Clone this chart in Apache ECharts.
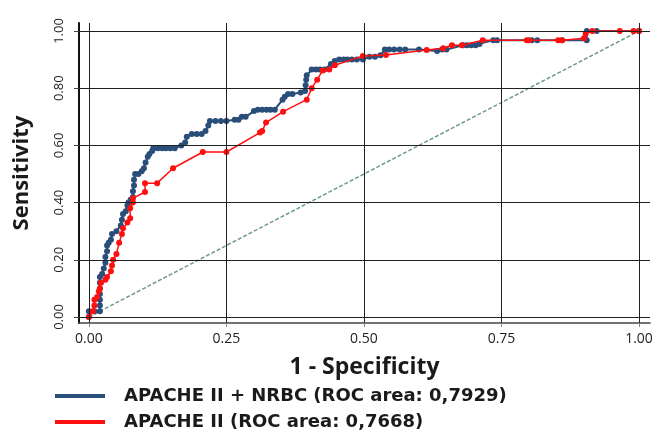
<!DOCTYPE html>
<html>
<head>
<meta charset="utf-8">
<script src="https://cdn.jsdelivr.net/npm/echarts@6/dist/echarts.min.js"></script>
<style>html,body{margin:0;padding:0;background:#fff;}#c{width:657px;height:436px;}</style>
</head>
<body>
<div id="c"></div>
<script>
var xTicks = [0, 0.25, 0.5, 0.75, 1];
var yTicks = [0, 0.2, 0.4, 0.6, 0.8, 1];
var seriesNames = ['APACHE II + NRBC (ROC area: 0,7929)', 'APACHE II (ROC area: 0,7668)'];
var diagonal = [[0, 0], [1, 1]];

var blueX = [0,0,0.01,0.02,0.02,0.02,0.02,0.02,0.02,0.02,0.024,0.027,0.03,0.03,0.033,0.033,0.036,0.04,0.042,0.05,0.058,0.06,0.062,0.067,0.07,0.072,0.076,0.08,0.08,0.082,0.082,0.084,0.09,0.096,0.10,0.103,0.107,0.11,0.115,0.117,0.125,0.133,0.14,0.148,0.156,0.168,0.175,0.178,0.187,0.196,0.205,0.212,0.217,0.22,0.23,0.24,0.25,0.265,0.272,0.278,0.285,0.30,0.307,0.315,0.323,0.33,0.338,0.352,0.356,0.362,0.37,0.385,0.393,0.394,0.395,0.396,0.405,0.413,0.42,0.428,0.44,0.447,0.455,0.463,0.47,0.478,0.487,0.498,0.51,0.52,0.53,0.538,0.546,0.555,0.565,0.575,0.60,0.633,0.642,0.65,0.68,0.687,0.695,0.703,0.71,0.735,0.742,0.805,0.815,0.86,0.905,0.905,0.923,1.0];
var blueY = [0,0.02,0.02,0.02,0.04,0.06,0.08,0.10,0.12,0.14,0.15,0.17,0.19,0.21,0.23,0.25,0.26,0.27,0.29,0.30,0.32,0.34,0.36,0.37,0.39,0.40,0.41,0.42,0.44,0.46,0.48,0.50,0.50,0.51,0.52,0.54,0.56,0.57,0.58,0.59,0.59,0.59,0.59,0.59,0.59,0.60,0.61,0.63,0.64,0.64,0.64,0.65,0.67,0.685,0.685,0.685,0.685,0.69,0.69,0.70,0.70,0.72,0.725,0.725,0.725,0.725,0.725,0.76,0.77,0.78,0.78,0.785,0.79,0.81,0.83,0.845,0.865,0.865,0.865,0.865,0.885,0.895,0.90,0.90,0.90,0.90,0.90,0.90,0.91,0.91,0.915,0.935,0.935,0.935,0.935,0.935,0.935,0.93,0.935,0.935,0.95,0.95,0.95,0.95,0.955,0.968,0.968,0.968,0.968,0.968,0.968,1.0,1.0,1.0];

var redX = [0,0.007,0.01,0.01,0.015,0.018,0.02,0.022,0.03,0.033,0.04,0.042,0.044,0.05,0.055,0.06,0.062,0.07,0.075,0.075,0.08,0.08,0.102,0.102,0.124,0.153,0.207,0.25,0.311,0.315,0.322,0.353,0.396,0.405,0.415,0.425,0.437,0.447,0.498,0.54,0.614,0.644,0.66,0.678,0.716,0.796,0.80,0.853,0.86,0.90,0.903,0.915,0.965,0.99,1.0];
var redY = [0,0.02,0.04,0.06,0.07,0.09,0.10,0.12,0.13,0.14,0.16,0.18,0.20,0.22,0.26,0.29,0.31,0.33,0.345,0.38,0.40,0.415,0.437,0.468,0.468,0.52,0.577,0.577,0.645,0.65,0.68,0.718,0.76,0.80,0.83,0.862,0.865,0.88,0.913,0.916,0.934,0.94,0.95,0.95,0.968,0.968,0.968,0.968,0.968,0.975,0.99,1.0,1.0,1.0,1.0];

function zip(a, b) { return a.map(function (v, i) { return [v, b[i]]; }); }

var gridLines = xTicks.map(function (v) { return { xAxis: v }; })
  .concat(yTicks.map(function (v) { return { yAxis: v }; }));

var legendText = { fontSize: 18, fontWeight: 'bold', color: '#1a1a1a', fontFamily: 'DejaVu Sans', padding: [0, 0, 0, 14] };
function legendFor(i, top) {
  return {
    orient: 'vertical', left: 55, top: top, itemWidth: 50, itemHeight: 4, padding: 0,
    data: [{ name: seriesNames[i], icon: 'rect' }],
    textStyle: legendText
  };
}

var chart = echarts.init(document.getElementById('c'));
chart.setOption({
  animation: false,
  backgroundColor: '#fff',
  textStyle: { fontFamily: 'Open Sans' },
  grid: { left: 79, right: 7, top: 23, bottom: 113 },
  xAxis: {
    type: 'value', min: -0.018, max: 1.02,
    name: '1 - Specificity', nameLocation: 'middle', nameGap: 33,
    nameTextStyle: { fontSize: 23, fontWeight: 'bold', color: '#1a1a1a', fontFamily: 'Open Sans' },
    axisLine: { show: true, onZero: false, lineStyle: { color: '#444', width: 1.5 } },
    axisTick: { show: true, customValues: xTicks, length: 4, lineStyle: { color: '#888' } },
    axisLabel: { customValues: xTicks, margin: 9, fontSize: 14, color: '#222', formatter: function (v) { return v.toFixed(2); } },
    splitLine: { show: false }
  },
  yAxis: {
    type: 'value', min: -0.021, max: 1.028,
    name: 'Sensitivity', nameLocation: 'middle', nameGap: 46,
    nameTextStyle: { fontSize: 22, fontWeight: 'bold', color: '#1a1a1a', fontFamily: 'Open Sans' },
    axisLine: { show: true, onZero: false, lineStyle: { color: '#111', width: 2 } },
    axisTick: { show: true, customValues: yTicks, length: 5, lineStyle: { color: '#444' } },
    axisLabel: { customValues: yTicks, rotate: 90, margin: 13, fontSize: 13, color: '#222', formatter: function (v) { return v.toFixed(2); } },
    splitLine: { show: false }
  },
  legend: [legendFor(0, 387), legendFor(1, 413)],
  series: [
    {
      type: 'line', name: 'diag', data: diagonal, symbol: 'none', silent: true,
      lineStyle: { color: '#6f9a8c', width: 1.5, type: [4, 2] },
      markLine: {
        silent: true, symbol: ['none', 'none'], label: { show: false },
        lineStyle: { color: '#222', width: 1, type: 'solid' },
        data: gridLines
      },
      z: 1
    },
    {
      type: 'line', name: seriesNames[0], data: zip(blueX, blueY),
      symbol: 'circle', symbolSize: 6, showAllSymbol: true,
      itemStyle: { color: '#2a4e7a' },
      lineStyle: { color: '#2a4e7a', width: 2 },
      z: 3
    },
    {
      type: 'line', name: seriesNames[1], data: zip(redX, redY),
      symbol: 'circle', symbolSize: 6, showAllSymbol: true,
      itemStyle: { color: '#ff1010' },
      lineStyle: { color: '#ff1010', width: 1.5 },
      z: 4
    }
  ]
});
</script>
</body>
</html>
